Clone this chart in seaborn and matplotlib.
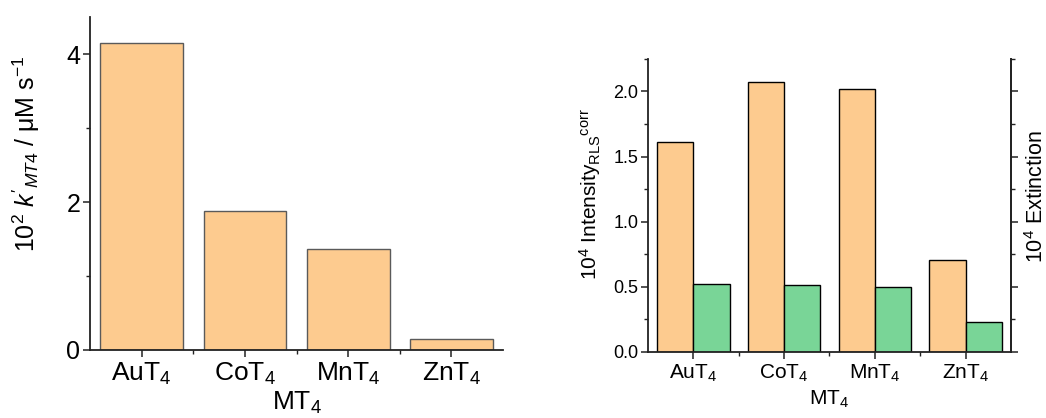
import matplotlib
matplotlib.use("Agg")
import matplotlib.pyplot as plt
import seaborn as sns
import pandas as pd
import numpy as np
from matplotlib.ticker import MultipleLocator

# ---- data ----
categories = ["AuT$_4$", "CoT$_4$", "MnT$_4$", "ZnT$_4$"]
k_rate = [4.15, 1.88, 1.36, 0.15]              # 10^2 k'_MT4 / uM s^-1
rls_intensity = [1.61, 2.07, 2.02, 0.705]        # 10^4 Intensity_RLS^corr
extinction = [0.52, 0.513, 0.495, 0.23]         # 10^4 Extinction (same scale)

orange = "#FDCB8F"
green = "#79D597"

sns.set_style("ticks")
plt.rcParams["font.family"] = ["Liberation Sans", "DejaVu Sans"]
plt.rcParams["mathtext.fontset"] = "custom"
plt.rcParams["mathtext.rm"] = "Liberation Sans"
plt.rcParams["mathtext.it"] = "Liberation Sans:italic"
plt.rcParams["mathtext.bf"] = "Liberation Sans:bold"
plt.rcParams["axes.edgecolor"] = "#222222"
plt.rcParams["xtick.color"] = "#222222"
plt.rcParams["ytick.color"] = "#222222"
plt.rcParams["xtick.labelcolor"] = "black"
plt.rcParams["ytick.labelcolor"] = "black"
plt.rcParams["text.color"] = "black"
plt.rcParams["axes.labelcolor"] = "black"

fig = plt.figure(figsize=(10.46, 4.18), dpi=100)
ax1 = fig.add_axes([0.086, 0.1627, 0.395, 0.7966])
ax2 = fig.add_axes([0.6195, 0.158, 0.347, 0.701])

# ---- left panel ----
df1 = pd.DataFrame({"MT4": categories, "k": k_rate})
sns.barplot(data=df1, x="MT4", y="k", ax=ax1, color=orange, saturation=1,
            width=0.8, edgecolor="#5a5a5a", linewidth=1.0)
ax1.set_xlim(-0.5, 3.5)
ax1.set_ylim(0, 4.5)
ax1.yaxis.set_major_locator(MultipleLocator(2))
ax1.yaxis.set_minor_locator(MultipleLocator(1))
ax1.set_xticks(range(4))
ax1.set_xticks([0.5, 1.5, 2.5], minor=True)
ax1.tick_params(axis="both", which="major", labelsize=18, length=5, width=1.1, pad=2)
ax1.tick_params(axis="x", which="major", labelsize=19, pad=3)
ax1.tick_params(axis="both", which="minor", length=3, width=1.0)
ax1.set_ylabel("10$^2$ $k'_{MT4}$ / μM s$^{-1}$", fontsize=18)
ax1.yaxis.set_label_coords(-0.116, 0.59)
ax1.set_xlabel("MT$_4$", fontsize=19, labelpad=2)
sns.despine(ax=ax1)
for s in ax1.spines.values():
    s.set_linewidth(1.3)

# ---- right panel ----
df2 = pd.DataFrame({
    "MT4": categories * 2,
    "val": rls_intensity + extinction,
    "series": ["RLS"] * 4 + ["Ext"] * 4,
})
sns.barplot(data=df2, x="MT4", y="val", hue="series", ax=ax2,
            palette=[orange, green], saturation=1, width=0.8, dodge=True,
            edgecolor="black", linewidth=1.0, legend=False)
ax2.set_xlim(-0.5, 3.5)
ax2.set_ylim(0, 2.25)
ax2.yaxis.set_major_locator(MultipleLocator(0.5))
ax2.yaxis.set_minor_locator(MultipleLocator(0.25))
ax2.yaxis.set_major_formatter(matplotlib.ticker.FormatStrFormatter("%.1f"))
ax2.set_xticks(range(4))
ax2.set_xticks([0.5, 1.5, 2.5], minor=True)
ax2.tick_params(axis="y", which="major", labelsize=13, length=5, width=1.1, pad=2)
ax2.tick_params(axis="x", which="major", labelsize=15, length=5, width=1.1, pad=3)
ax2.tick_params(axis="both", which="minor", length=3, width=1.0)
ax2.set_ylabel("10$^4$ Intensity$_{\\mathrm{RLS}}$$^{\\mathrm{corr}}$", fontsize=15)
ax2.yaxis.set_label_coords(-0.124, 0.5375)
ax2.set_xlabel("MT$_4$", fontsize=15, labelpad=3)
sns.despine(ax=ax2, right=False)
for s in ax2.spines.values():
    s.set_linewidth(1.3)

ax3 = ax2.twinx()
ax3.set_ylim(0, 2.25)
ax3.yaxis.set_major_locator(MultipleLocator(0.5))
ax3.yaxis.set_minor_locator(MultipleLocator(0.25))
ax3.tick_params(axis="y", which="major", length=5, width=1.1, labelright=False)
ax3.tick_params(axis="y", which="minor", length=3, width=1.0)
ax3.set_ylabel("10$^4$ Extinction", fontsize=15.5)
ax3.yaxis.set_label_coords(1.0386, 0.531)
for name, s in ax3.spines.items():
    s.set_visible(name == "right")
    s.set_linewidth(1.3)

fig.savefig("out.png", dpi=100)
